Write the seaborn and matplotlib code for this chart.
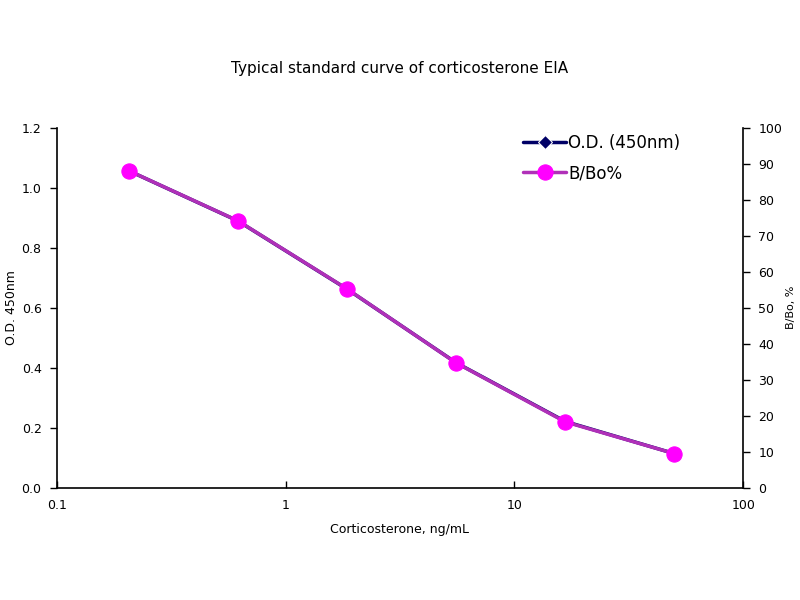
import numpy as np
import pandas as pd
import matplotlib
matplotlib.use("Agg")
import matplotlib.pyplot as plt
import seaborn as sns
from matplotlib.ticker import FixedLocator, NullLocator, FuncFormatter

# data
conc = [0.206, 0.617, 1.85, 5.56, 16.7, 50.0]
od_450 = [1.057, 0.890, 0.663, 0.417, 0.221, 0.114]
b_bo = [88.1, 74.2, 55.3, 34.7, 18.3, 9.5]

data = pd.DataFrame({'conc': conc, 'od': od_450, 'bbo': b_bo})

sns.set_theme(style='white')
plt.rcParams['font.family'] = ['DejaVu Sans']
plt.rcParams['text.color'] = 'black'
plt.rcParams['axes.labelcolor'] = 'black'
plt.rcParams['xtick.color'] = 'black'
plt.rcParams['ytick.color'] = 'black'

fig = plt.figure(figsize=(8, 6), dpi=100)
ax = fig.add_axes([0.071, 0.187, 0.858, 0.600])
ax2 = ax.twinx()

sns.lineplot(x='conc', y='od', data=data, ax=ax, color='#000066', marker='D',
             markersize=7, linewidth=2.5, label='O.D. (450nm)', legend=False)
sns.lineplot(x='conc', y='bbo', data=data, ax=ax2, color='#B030B8', marker='o',
             markersize=11, markerfacecolor='#FF00FF', markeredgecolor='#FF00FF',
             linewidth=2.5, label='B/Bo%', legend=False)

ax.set_xscale('log')
ax.set_xlim(0.1, 100)
ax.set_ylim(0, 1.2)
ax2.set_ylim(0, 100)

ax.xaxis.set_major_locator(FixedLocator([0.1, 1, 10, 100]))
ax.xaxis.set_minor_locator(NullLocator())
ax.xaxis.set_major_formatter(FuncFormatter(lambda v, p: f'{v:g}'))
ax.set_yticks(np.arange(0, 1.21, 0.2))
ax.yaxis.set_major_formatter(FuncFormatter(lambda v, p: f'{v:.1f}'))
ax2.set_yticks(np.arange(0, 101, 10))

for a in (ax, ax2):
    for s in a.spines.values():
        s.set_visible(False)
    a.grid(False)
ax.spines['left'].set_visible(True)
ax.spines['bottom'].set_visible(True)
ax2.spines['right'].set_visible(True)
for s in ('left', 'bottom'):
    ax.spines[s].set_color('black')
    ax.spines[s].set_linewidth(1.2)
ax2.spines['right'].set_color('black')
ax2.spines['right'].set_linewidth(1.2)

ax.tick_params(axis='y', direction='out', length=5, width=1,
               left=True, labelsize=9, pad=6)
ax.tick_params(axis='x', direction='in', length=5, width=1,
               bottom=True, labelsize=9, pad=8)
ax2.tick_params(axis='y', direction='out', length=5, width=1,
                right=True, labelsize=9, pad=6)

ax.set_xlabel('Corticosterone, ng/mL', fontsize=9, labelpad=8)
ax.set_ylabel('O.D. 450nm', fontsize=9)
ax2.set_ylabel('B/Bo, %', fontsize=8)
ax.yaxis.set_label_coords(-0.056, 0.5)
ax2.yaxis.set_label_coords(1.063, 0.5)

fig.text(0.5, 0.886, 'Typical standard curve of corticosterone EIA',
         ha='center', va='center', fontsize=11)

h1, l1 = ax.get_legend_handles_labels()
h2, l2 = ax2.get_legend_handles_labels()
ax2.legend(h1 + h2, l1 + l2, loc='upper right', bbox_to_anchor=(0.93, 1.025),
           frameon=False, fontsize=12, handlelength=2.6, handletextpad=0.1,
           labelspacing=0.75)

fig.savefig('out.png', dpi=100)
